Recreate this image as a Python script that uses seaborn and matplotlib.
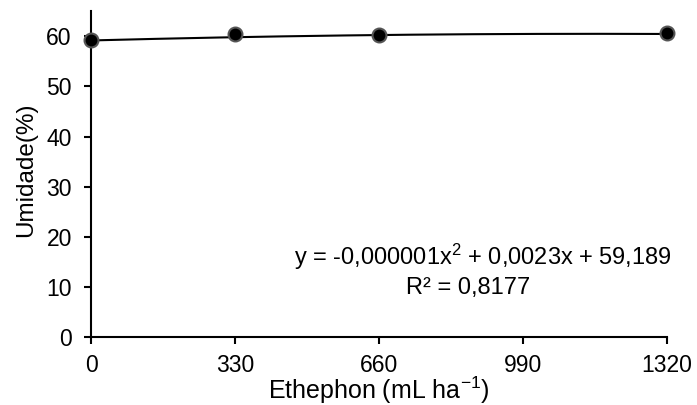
import numpy as np
import pandas as pd
import seaborn as sns
import matplotlib
matplotlib.use("Agg")
import matplotlib.pyplot as plt

# Data
doses = [0, 330, 660, 1320]
umidade = [59.3, 60.4, 60.3, 60.6]
tick_x = [0, 330, 660, 990, 1320]
tick_y = [0, 10, 20, 30, 40, 50, 60]
# Trendline coefficients as printed on the chart (a*x^2 + b*x + c)
coef = [-0.000001, 0.0023, 59.189]
r2 = "0,8177"

sns.set_theme(style="white")
plt.rcParams["font.family"] = ["Liberation Sans", "DejaVu Sans"]
plt.rcParams["mathtext.fontset"] = "custom"
plt.rcParams["mathtext.rm"] = "Liberation Sans"
plt.rcParams["mathtext.it"] = "Liberation Sans"
plt.rcParams["text.color"] = "black"
plt.rcParams["axes.labelcolor"] = "black"

df = pd.DataFrame({"dose": doses, "umidade": umidade})
xs = np.linspace(0, 1320, 200)
trend = pd.DataFrame({"dose": xs, "fit": np.polyval(coef, xs)})

fig, ax = plt.subplots(figsize=(6.97, 4.05), dpi=100)
fig.subplots_adjust(left=0.131, right=0.957, top=0.972, bottom=0.168)

sns.lineplot(data=trend, x="dose", y="fit", color="black", linewidth=1.5, ax=ax)
sns.scatterplot(data=df, x="dose", y="umidade", s=100, color="black",
                edgecolor="#555555", linewidth=1.5, zorder=5, ax=ax, clip_on=False)

ax.set_xlim(0, 1320)
ax.set_ylim(0, 65)
ax.set_xticks(tick_x)
ax.set_yticks(tick_y)
ax.tick_params(axis="both", direction="out", length=5, width=1.5, colors="black",
               labelsize=16.5, left=True, bottom=True)
ax.tick_params(axis="x", pad=7)
ax.tick_params(axis="y", pad=9)
for side in ["top", "right"]:
    ax.spines[side].set_visible(False)
for side in ["left", "bottom"]:
    ax.spines[side].set_color("black")
    ax.spines[side].set_linewidth(1.5)

ax.set_xlabel(r"Ethephon (mL ha$^{\mathregular{-1}}$)", fontsize=18, va="baseline")
ax.set_ylabel("Umidade(%)", fontsize=17.5)
ax.xaxis.set_label_coords(0.5, -0.191)
ax.yaxis.set_label_coords(-0.094, 0.514)

ax.text(898, 16, r"y = -0,000001x$^{\mathregular{2}}$ + 0,0023x + 59,189",
        ha="center", va="center", fontsize=17)
ax.text(864, 9.8, "R² = " + r2, ha="center", va="center", fontsize=17)

fig.savefig("out.png", dpi=100)
